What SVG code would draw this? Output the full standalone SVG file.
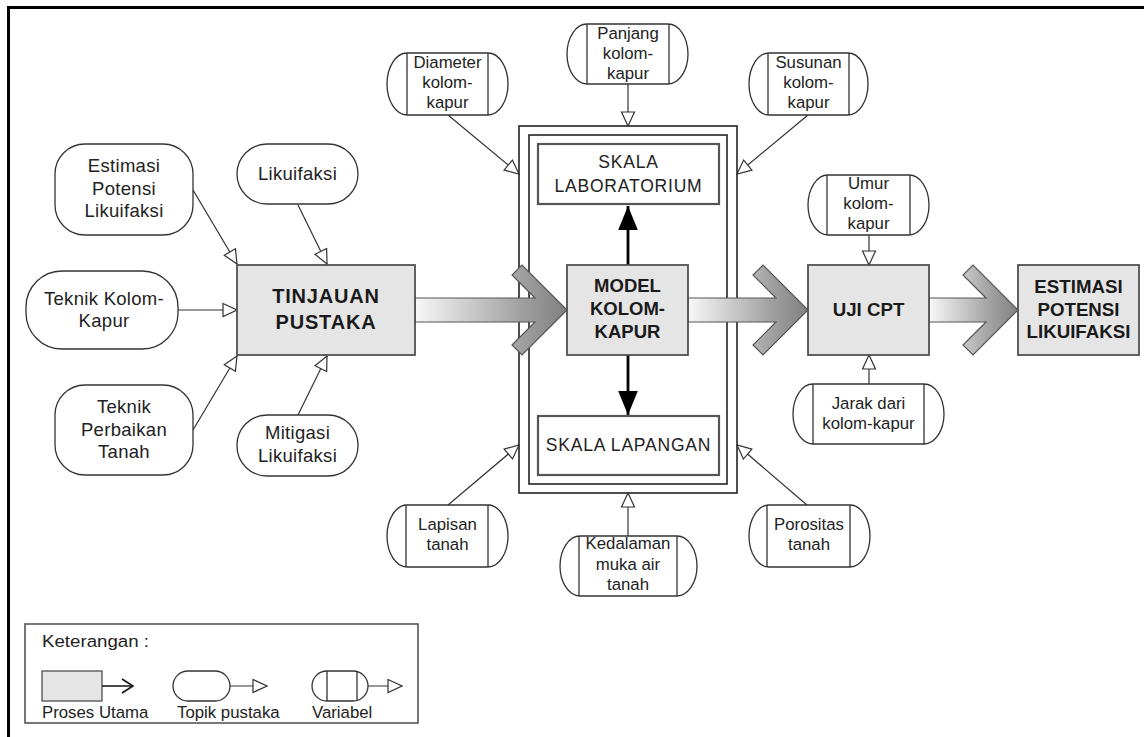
<svg xmlns="http://www.w3.org/2000/svg" width="1144" height="737" viewBox="0 0 1144 737">
<style>
text{font-family:"Liberation Sans",Arial,sans-serif;fill:#222;text-anchor:middle}
.topic{font-size:18.5px;letter-spacing:0.3px}
.var{font-size:16.8px}
.bold{font-size:18.7px;font-weight:bold;fill:#1a1a1a}
.skala{font-size:17.5px;letter-spacing:0.8px}
.leg{font-size:16.8px;text-anchor:start}
.proc{fill:#e5e5e5;stroke:#505050;stroke-width:1.8}
.tp{fill:#fff;stroke:#333;stroke-width:1.3}
.vl{fill:none;stroke:#333;stroke-width:1.3}
.frame{fill:none;stroke:#222;stroke-width:1.6}
.skbox{fill:#fff;stroke:#555;stroke-width:2.2}
.con{fill:none;stroke:#333;stroke-width:1.2;marker-end:url(#open)}
.thick{fill:none;stroke:#000;stroke-width:2.8;marker-end:url(#solid)}
.big{fill:url(#grad);stroke:#555;stroke-width:1.2}
</style>
<defs>
<linearGradient id="grad" x1="0" y1="0" x2="1" y2="0">
<stop offset="0" stop-color="#f8f8f8"/>
<stop offset="0.7" stop-color="#a0a0a0"/>
<stop offset="1" stop-color="#808080"/>
</linearGradient>
<marker id="open" markerUnits="userSpaceOnUse" markerWidth="16" markerHeight="16" viewBox="-1 -1 16 15" refX="14" refY="6.5" orient="auto">
<path d="M0,0 L14,6.5 L0,13 Z" fill="#fff" stroke="#333" stroke-width="1.2"/>
</marker>
<marker id="solid" markerUnits="userSpaceOnUse" markerWidth="24" markerHeight="20" viewBox="0 0 22 18" refX="22" refY="9" orient="auto">
<path d="M0,0 L22,9 L0,18 Z" fill="#000"/>
</marker>
<marker id="vee" markerUnits="userSpaceOnUse" markerWidth="14" markerHeight="16" viewBox="-1 -1 14 16" refX="11" refY="7" orient="auto">
<path d="M0,0 L11,7 L0,14" fill="none" stroke="#111" stroke-width="1.6"/>
</marker>
</defs>

<rect x="8.5" y="7.5" width="1160" height="760" fill="#fff" stroke="#000" stroke-width="3"/>

<g id="frame-model">
<rect class="frame" x="519" y="126" width="218" height="367"/>
<rect class="frame" x="529" y="135" width="198" height="349"/>
</g>

<g id="connectors">
<line class="con" x1="193" y1="190" x2="237" y2="264"/>
<line class="con" x1="298" y1="205" x2="327" y2="264"/>
<line class="con" x1="178" y1="310" x2="237" y2="310"/>
<line class="con" x1="193" y1="430" x2="237" y2="356"/>
<line class="con" x1="298" y1="415" x2="327" y2="356"/>
<line class="con" x1="448" y1="115" x2="519" y2="174"/>
<line class="con" x1="628" y1="84" x2="628" y2="126"/>
<line class="con" x1="808" y1="115" x2="737" y2="174"/>
<line class="con" x1="448" y1="505" x2="519" y2="445"/>
<line class="con" x1="628" y1="536" x2="628" y2="493"/>
<line class="con" x1="807" y1="505" x2="737" y2="445"/>
<line class="con" x1="869" y1="235" x2="869" y2="265"/>
<line class="con" x1="869" y1="384" x2="869" y2="355"/>
<line class="thick" x1="628" y1="265" x2="628" y2="206"/>
<line class="thick" x1="628" y1="355" x2="628" y2="415"/>
<polygon class="big" points="415,298 535,298 512,275 522,265 567,310 522,355 512,345 535,322 415,322"/>
<polygon class="big" points="688,298 776,298 753,275 763,265 808,310 763,355 753,345 776,322 688,322"/>
<polygon class="big" points="929,298 986,298 963,275 973,265 1018,310 973,355 963,345 986,322 929,322"/>
</g>

<g id="tinjauan">
<rect class="proc" x="237" y="265" width="178" height="90"/>
<text class="bold" x="326" y="303" style="font-size:20px;letter-spacing:0.8px">TINJAUAN</text>
<text class="bold" x="326" y="329" style="font-size:20px;letter-spacing:0.8px">PUSTAKA</text>
</g>
<g id="model">
<rect class="proc" x="567" y="265" width="121" height="90"/>
<text class="bold" x="627.5" y="292" style="font-size:18.5px">MODEL</text>
<text class="bold" x="627.5" y="315" style="font-size:18.5px">KOLOM-</text>
<text class="bold" x="627.5" y="338" style="font-size:18.5px">KAPUR</text>
</g>
<g id="ujicpt">
<rect class="proc" x="808" y="265" width="121" height="90"/>
<text class="bold" x="868.5" y="316">UJI CPT</text>
</g>
<g id="estimasi-out">
<rect class="proc" x="1018" y="265" width="121" height="90"/>
<text class="bold" x="1078.5" y="293">ESTIMASI</text>
<text class="bold" x="1078.5" y="316">POTENSI</text>
<text class="bold" x="1078.5" y="338">LIKUIFAKSI</text>
</g>
<g id="skala-lab">
<rect class="skbox" x="538" y="144" width="181" height="60"/>
<text class="skala" x="628.5" y="168">SKALA</text>
<text class="skala" x="628.5" y="192">LABORATORIUM</text>
</g>
<g id="skala-lap">
<rect class="skbox" x="538" y="416" width="181" height="59"/>
<text class="skala" x="628.5" y="451">SKALA LAPANGAN</text>
</g>

<g id="t-estimasi">
<rect class="tp" x="55" y="144" width="138" height="91" rx="30" ry="30"/>
<text class="topic" x="124" y="172">Estimasi</text>
<text class="topic" x="124" y="194.5">Potensi</text>
<text class="topic" x="124" y="217">Likuifaksi</text>
</g>
<g id="t-likuifaksi">
<rect class="tp" x="237" y="144" width="121" height="60" rx="30" ry="30"/>
<text class="topic" x="297.5" y="180">Likuifaksi</text>
</g>
<g id="t-kolom">
<rect class="tp" x="26" y="271" width="152" height="78" rx="36" ry="36"/>
<text class="topic" x="104" y="305">Teknik Kolom-</text>
<text class="topic" x="104" y="327">Kapur</text>
</g>
<g id="t-perbaikan">
<rect class="tp" x="55" y="385" width="138" height="90" rx="30" ry="30"/>
<text class="topic" x="124" y="413">Teknik</text>
<text class="topic" x="124" y="436">Perbaikan</text>
<text class="topic" x="124" y="458">Tanah</text>
</g>
<g id="t-mitigasi">
<rect class="tp" x="237" y="415" width="121" height="61" rx="30" ry="30"/>
<text class="topic" x="297.5" y="439">Mitigasi</text>
<text class="topic" x="297.5" y="462">Likuifaksi</text>
</g>

<g id="v-diameter">
<rect class="tp" x="387" y="53" width="121" height="62" rx="20" ry="31"/>
<path class="vl" d="M407,53 V115 M488,53 V115"/>
<text class="var" x="447.5" y="68">Diameter</text>
<text class="var" x="447.5" y="88">kolom-</text>
<text class="var" x="447.5" y="108">kapur</text>
</g>
<g id="v-panjang">
<rect class="tp" x="567" y="24" width="121" height="60" rx="20" ry="30"/>
<path class="vl" d="M587,24 V84 M669,24 V84"/>
<text class="var" x="628" y="39">Panjang</text>
<text class="var" x="628" y="59">kolom-</text>
<text class="var" x="628" y="79">kapur</text>
</g>
<g id="v-susunan">
<rect class="tp" x="749" y="53" width="119" height="62" rx="20" ry="31"/>
<path class="vl" d="M768,53 V115 M849,53 V115"/>
<text class="var" x="808.5" y="68">Susunan</text>
<text class="var" x="808.5" y="88">kolom-</text>
<text class="var" x="808.5" y="108">kapur</text>
</g>
<g id="v-umur">
<rect class="tp" x="808" y="175" width="121" height="60" rx="20" ry="30"/>
<path class="vl" d="M827,175 V235 M910,175 V235"/>
<text class="var" x="868.5" y="189">Umur</text>
<text class="var" x="868.5" y="209">kolom-</text>
<text class="var" x="868.5" y="229">kapur</text>
</g>
<g id="v-jarak">
<rect class="tp" x="793" y="384" width="151" height="60" rx="20" ry="30"/>
<path class="vl" d="M813,384 V444 M924,384 V444"/>
<text class="var" x="868.5" y="409">Jarak dari</text>
<text class="var" x="868.5" y="429">kolom-kapur</text>
</g>
<g id="v-lapisan">
<rect class="tp" x="387" y="505" width="121" height="62" rx="20" ry="31"/>
<path class="vl" d="M406,505 V567 M488,505 V567"/>
<text class="var" x="447.5" y="530">Lapisan</text>
<text class="var" x="447.5" y="550">tanah</text>
</g>
<g id="v-kedalaman">
<rect class="tp" x="560" y="536" width="137" height="60" rx="20" ry="30"/>
<path class="vl" d="M579,536 V596 M677,536 V596"/>
<text class="var" x="628" y="549">Kedalaman</text>
<text class="var" x="628" y="570">muka air</text>
<text class="var" x="628" y="590">tanah</text>
</g>
<g id="v-porositas">
<rect class="tp" x="749" y="505" width="121" height="62" rx="20" ry="31"/>
<path class="vl" d="M767,505 V567 M850,505 V567"/>
<text class="var" x="809" y="530">Porositas</text>
<text class="var" x="809" y="550">tanah</text>
</g>

<g id="legend">
<rect x="25" y="624" width="393" height="99" fill="#fff" stroke="#555" stroke-width="1.6"/>
<text class="leg" x="42" y="647" textLength="107" lengthAdjust="spacingAndGlyphs">Keterangan :</text>
<rect class="proc" x="42" y="671" width="60" height="30" style="stroke-width:1.3"/>
<line x1="102" y1="686" x2="133" y2="686" stroke="#111" stroke-width="1.5" marker-end="url(#vee)"/>
<text class="leg" x="42" y="718">Proses Utama</text>
<rect class="tp" x="173" y="671" width="57" height="30" rx="15" ry="15"/>
<line class="con" x1="230" y1="686" x2="267" y2="686"/>
<text class="leg" x="177" y="718">Topik pustaka</text>
<rect class="tp" x="312" y="671" width="56" height="30" rx="15" ry="15"/>
<path class="vl" d="M327,671 V701 M357,671 V701"/>
<line class="con" x1="368" y1="686" x2="402" y2="686"/>
<text class="leg" x="312" y="718">Variabel</text>
</g>
</svg>
